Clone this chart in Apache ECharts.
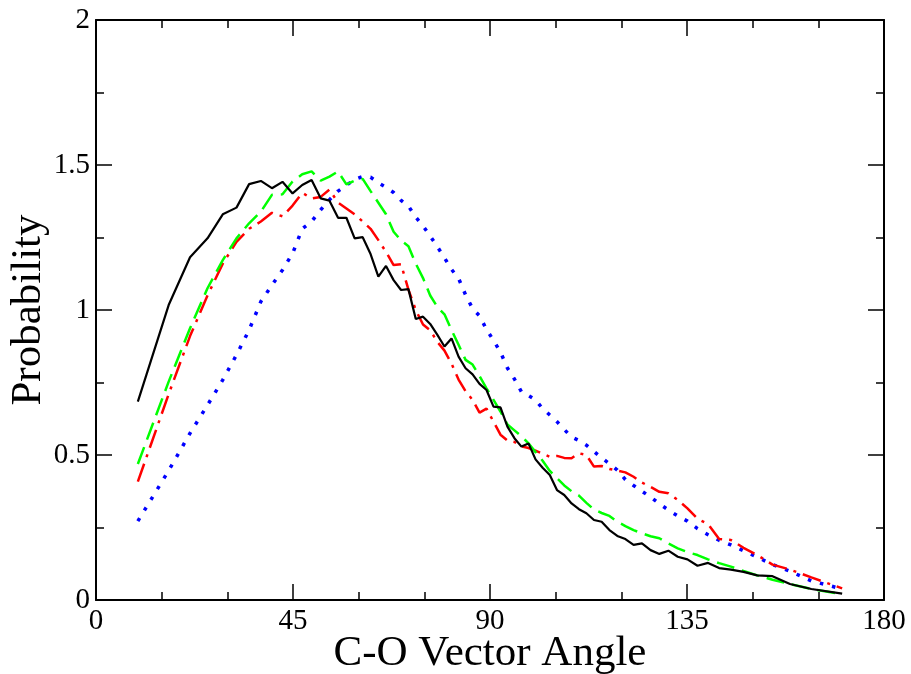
<!DOCTYPE html>
<html>
<head>
<meta charset="utf-8">
<script src="https://cdn.jsdelivr.net/npm/echarts@6/dist/echarts.min.js"></script>
<style>html,body{margin:0;padding:0;background:#fff}#c{width:911px;height:674px}</style>
</head>
<body>
<div id="c"></div>
<script>
// bin centres (degrees)
const angles = [9.56,16.60,21.48,25.47,28.96,32.09,34.97,37.66,40.19,42.60,44.90,47.11,49.25,51.32,53.33,55.29,57.20,59.08,60.92,62.72,64.50,66.25,67.98,69.68,71.37,73.04,74.70,76.34,77.98,79.60,81.21,82.82,84.42,86.02,87.61,89.20,90.80,92.39,93.98,95.58,97.18,98.79,100.40,102.02,103.66,105.30,106.96,108.63,110.32,112.02,113.75,115.50,117.28,119.08,120.92,122.80,124.71,126.67,128.68,130.75,132.89,135.10,137.40,139.81,142.34,145.03,147.91,151.04,154.53,158.52,163.40,170.44];

const blackVals = [0.684,1.017,1.182,1.247,1.330,1.353,1.434,1.445,1.420,1.442,1.402,1.431,1.448,1.385,1.377,1.318,1.318,1.247,1.251,1.193,1.115,1.152,1.103,1.069,1.072,0.969,0.977,0.952,0.914,0.874,0.902,0.839,0.799,0.778,0.745,0.724,0.667,0.664,0.598,0.558,0.529,0.540,0.485,0.456,0.431,0.379,0.362,0.333,0.313,0.299,0.276,0.270,0.241,0.221,0.210,0.190,0.195,0.172,0.159,0.170,0.149,0.140,0.118,0.128,0.110,0.105,0.097,0.085,0.082,0.055,0.038,0.022];

const greenVals = [0.469,0.753,0.937,1.075,1.172,1.247,1.299,1.339,1.397,1.399,1.443,1.468,1.478,1.446,1.460,1.478,1.433,1.446,1.452,1.410,1.370,1.330,1.270,1.240,1.220,1.160,1.110,1.050,1.010,0.985,0.931,0.880,0.828,0.812,0.772,0.730,0.690,0.650,0.605,0.585,0.565,0.540,0.510,0.480,0.445,0.420,0.395,0.375,0.360,0.335,0.312,0.300,0.290,0.270,0.255,0.241,0.230,0.220,0.213,0.195,0.178,0.165,0.155,0.140,0.127,0.115,0.100,0.085,0.070,0.055,0.038,0.020];

const redVals = [0.408,0.710,0.910,1.050,1.160,1.235,1.280,1.305,1.335,1.323,1.360,1.404,1.385,1.390,1.415,1.370,1.350,1.330,1.305,1.280,1.241,1.200,1.155,1.158,1.070,1.000,0.950,0.930,0.890,0.860,0.815,0.760,0.720,0.690,0.646,0.660,0.615,0.570,0.550,0.545,0.530,0.524,0.515,0.505,0.494,0.497,0.490,0.489,0.506,0.500,0.460,0.462,0.452,0.446,0.440,0.425,0.405,0.390,0.373,0.368,0.345,0.316,0.280,0.262,0.210,0.207,0.180,0.155,0.122,0.105,0.078,0.040];

const blueVals = [0.272,0.446,0.575,0.672,0.759,0.845,0.931,1.029,1.086,1.138,1.195,1.280,1.305,1.345,1.380,1.410,1.430,1.450,1.460,1.458,1.438,1.423,1.405,1.378,1.358,1.320,1.290,1.255,1.218,1.180,1.140,1.109,1.052,1.005,0.980,0.933,0.895,0.855,0.800,0.762,0.718,0.705,0.690,0.660,0.638,0.615,0.588,0.562,0.550,0.534,0.512,0.490,0.470,0.448,0.415,0.395,0.375,0.355,0.332,0.310,0.290,0.272,0.246,0.225,0.206,0.190,0.170,0.148,0.122,0.099,0.066,0.038];

const xTicks = {min: 0, max: 180, interval: 45};
const yTicks = {min: 0, max: 2, interval: 0.5};

const pair = vals => angles.map((a, i) => [a, vals[i]]);

const font = '"Liberation Serif", "DejaVu Serif", serif';
const axisCommon = {
  axisLine: {show: true, onZero: false, lineStyle: {color: '#000', width: 2}},
  axisTick: {show: true, inside: true, length: 16, lineStyle: {color: '#000', width: 1.5}},
  minorTick: {show: true, length: 8, lineStyle: {color: '#000', width: 1.5}},
  splitLine: {show: false}
};

const chart = echarts.init(document.getElementById('c'), null, {renderer: 'canvas'});
chart.setOption({
  animation: false,
  backgroundColor: '#fff',
  grid: {left: 96, right: 27, top: 20, bottom: 74, containLabel: false, outerBoundsMode: 'none'},
  xAxis: [
    Object.assign({}, axisCommon, {
      type: 'value', position: 'bottom', min: xTicks.min, max: xTicks.max, interval: xTicks.interval,
      minorTick: Object.assign({}, axisCommon.minorTick, {splitNumber: 3}),
      axisLabel: {color: '#000', fontFamily: font, fontSize: 29, margin: 7},
      name: 'C-O Vector Angle', nameLocation: 'middle', nameGap: 32, nameMoveOverlap: false,
      nameTextStyle: {color: '#000', fontFamily: font, fontSize: 43}
    }),
    Object.assign({}, axisCommon, {
      type: 'value', position: 'top', min: xTicks.min, max: xTicks.max, interval: xTicks.interval,
      minorTick: Object.assign({}, axisCommon.minorTick, {splitNumber: 3}),
      axisLabel: {show: false}
    })
  ],
  yAxis: [
    Object.assign({}, axisCommon, {
      type: 'value', position: 'left', min: yTicks.min, max: yTicks.max, interval: yTicks.interval,
      minorTick: Object.assign({}, axisCommon.minorTick, {splitNumber: 2}),
      axisLabel: {color: '#000', fontFamily: font, fontSize: 29, margin: 6},
      name: 'Probability', nameLocation: 'middle', nameGap: 46, nameRotate: 90, nameMoveOverlap: false,
      nameTextStyle: {color: '#000', fontFamily: font, fontSize: 43}
    }),
    Object.assign({}, axisCommon, {
      type: 'value', position: 'right', min: yTicks.min, max: yTicks.max, interval: yTicks.interval,
      minorTick: Object.assign({}, axisCommon.minorTick, {splitNumber: 2}),
      axisLabel: {show: false}
    })
  ],
  series: [
    {type: 'line', data: pair(blueVals), showSymbol: false, z: 2,
     lineStyle: {color: '#0000ff', width: 3.5, type: [3.5, 9], cap: 'butt'}},
    {type: 'line', data: pair(redVals), showSymbol: false, z: 3,
     lineStyle: {color: '#ff0000', width: 2.5, type: [19, 7, 3, 7]}},
    {type: 'line', data: pair(greenVals), showSymbol: false, z: 4,
     lineStyle: {color: '#00ff00', width: 2.5, type: [18, 8]}},
    {type: 'line', data: pair(blackVals), showSymbol: false, z: 5,
     lineStyle: {color: '#000000', width: 2.2, type: 'solid'}}
  ]
});
</script>
</body>
</html>
